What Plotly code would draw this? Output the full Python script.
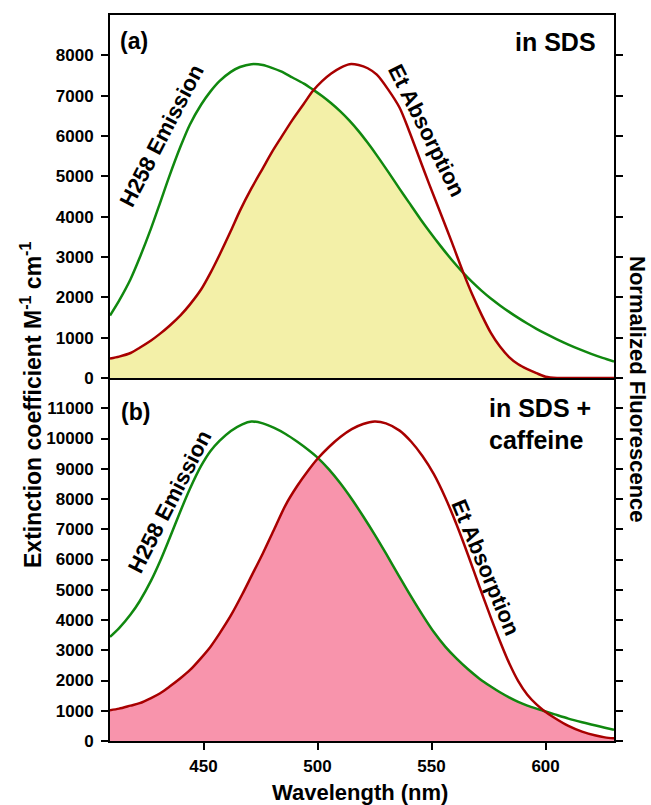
import plotly.graph_objects as go
import numpy as np

# ---------------- data ----------------
# Panel (a): in SDS
wl_a = [409, 413, 418, 422, 427, 431, 435, 440, 444, 449, 453, 457, 462, 466, 471,
        476, 480, 484, 489, 494, 498, 502, 506, 510, 514, 518, 522, 526, 531, 536,
        540, 545, 549, 554, 559, 564, 568, 572, 576, 580, 584, 588, 592, 596, 600,
        605, 610, 615, 620, 625, 630]
emis_a = [1550, 1920, 2450, 2980, 3710, 4350, 5000, 5750, 6280, 6780, 7100, 7360, 7590, 7710, 7780,
          7760, 7690, 7600, 7450, 7300, 7150, 6990, 6810, 6610, 6380, 6120, 5830, 5520, 5110, 4690,
          4360, 3950, 3640, 3270, 2920, 2600, 2370, 2160, 1970, 1800, 1640, 1490, 1350, 1220, 1100,
          960, 830, 710, 600, 500, 410]
abs_a = [480, 530, 620, 750, 930, 1100, 1290, 1560, 1820, 2200, 2600, 3050, 3650, 4150, 4700,
         5200, 5600, 5960, 6400, 6800, 7120, 7360, 7550, 7690, 7780, 7760, 7680, 7520, 7150, 6700,
         6150, 5400, 4800, 4080, 3350, 2600, 2050, 1560, 1120, 780, 520, 340, 220, 120, 30,
         0, 0, 0, 0, 0, 0]

# Panel (b): in SDS + caffeine
wl_b = [409, 413, 418, 422, 427, 431, 435, 440, 444, 449, 453, 457, 462, 467, 471,
        476, 481, 486, 491, 496, 500, 505, 510, 515, 520, 525, 530, 536, 541, 546,
        551, 556, 561, 566, 571, 576, 580, 584, 588, 592, 596, 599, 604, 610, 616,
        622, 626, 630]
emis_b = [3440, 3730, 4180, 4620, 5300, 5950, 6680, 7620, 8330, 9100, 9580, 9920, 10250, 10470, 10560,
          10500, 10350, 10150, 9900, 9620, 9370, 8980, 8520, 8000, 7430, 6830, 6200, 5420, 4780, 4170,
          3600, 3120, 2720, 2370, 2060, 1800, 1610, 1440, 1290, 1170, 1070, 1000, 880, 740, 620,
          510, 440, 370]
abs_b = [1020, 1070, 1170, 1250, 1420, 1580, 1790, 2080, 2340, 2750, 3110, 3550, 4150, 4850, 5450,
         6200, 7000, 7800, 8420, 8950, 9330, 9720, 10050, 10310, 10480, 10560, 10500, 10260, 9900, 9420,
         8820, 8050, 7150, 6150, 5100, 4080, 3300, 2580, 1980, 1530, 1210, 1020, 760, 500, 310,
         180, 120, 90]

x_ticks = [450, 500, 550, 600]
y_ticks_a = list(range(0, 9000, 1000))
y_ticks_b = list(range(0, 12000, 1000))

# ---------------- style ----------------
GREEN = "#10880F"
RED = "#A80000"
FILL_A = "#F3F0A8"
FILL_B = "#F894AC"
FONT = "Liberation Sans"
SM = 0.8

fig = go.Figure()

# overlap fills
fig.add_trace(go.Scatter(x=wl_a, y=np.minimum(emis_a, abs_a), xaxis="x2", yaxis="y",
                         mode="lines", line=dict(width=0, shape="spline", smoothing=SM),
                         fill="tozeroy", fillcolor=FILL_A, hoverinfo="skip", showlegend=False))
fig.add_trace(go.Scatter(x=wl_b, y=np.minimum(emis_b, abs_b), xaxis="x", yaxis="y2",
                         mode="lines", line=dict(width=0, shape="spline", smoothing=SM),
                         fill="tozeroy", fillcolor=FILL_B, hoverinfo="skip", showlegend=False))

# curves
for wl, em, ab, xa, ya in [(wl_a, emis_a, abs_a, "x2", "y"), (wl_b, emis_b, abs_b, "x", "y2")]:
    fig.add_trace(go.Scatter(x=wl, y=em, xaxis=xa, yaxis=ya, mode="lines",
                             line=dict(color=GREEN, width=2.5, shape="spline", smoothing=SM),
                             showlegend=False, name="H258 Emission"))
    fig.add_trace(go.Scatter(x=wl, y=ab, xaxis=xa, yaxis=ya, mode="lines",
                             line=dict(color=RED, width=2.5, shape="spline", smoothing=SM),
                             showlegend=False, name="Et Absorption"))

tickfont = dict(family=FONT, size=17, color="black", weight=700)
common_y = dict(ticks="outside", ticklen=7, tickwidth=2, tickcolor="black",
                showline=True, linewidth=2, linecolor="black", mirror="ticks",
                showgrid=False, zeroline=False, tickfont=tickfont, ticklabelstandoff=4,
                tickformat="d")

fig.update_layout(
    width=651, height=805,
    margin=dict(l=110, r=37, t=15, b=64),
    paper_bgcolor="white", plot_bgcolor="white",
    xaxis=dict(domain=[0, 1], anchor="y2", range=[409, 630], tickvals=x_ticks,
               ticks="outside", ticklen=7, tickwidth=2, tickcolor="black",
               showline=True, linewidth=2, linecolor="black", ticklabelstandoff=2,
               showgrid=False, zeroline=False, tickfont=tickfont),
    xaxis2=dict(domain=[0, 1], anchor="y", range=[409, 630], matches="x",
                showticklabels=False, ticks="", showline=True, mirror=True,
                linewidth=2, linecolor="black", showgrid=False, zeroline=False),
    yaxis=dict(domain=[0.5, 1], anchor="x2", range=[0, 9000], tickvals=y_ticks_a, **common_y),
    yaxis2=dict(domain=[0, 0.5], anchor="x", range=[0, 12000], tickvals=y_ticks_b, **common_y),
)

# text annotations (positions given in pixels, converted to paper coordinates)
L, R, T, B = 110, 614, 15, 741


def px(xp, yp):
    return (xp - L) / (R - L), (B - yp) / (B - T)


def note(text, xp, yp, size=22, angle=0, xanchor="center", yanchor="middle", color="black"):
    x, y = px(xp, yp)
    fig.add_annotation(text=text, x=x, y=y, xref="paper", yref="paper", showarrow=False,
                       textangle=angle, xanchor=xanchor, yanchor=yanchor,
                       font=dict(family=FONT, size=size, color=color, weight=700))


note("(a)", 118, 41, size=23, xanchor="left")
note("(b)", 119, 412, size=23, xanchor="left")
note("in SDS", 598, 42, size=25, xanchor="right")
note("in SDS +", 487, 408, size=25, xanchor="left")
note("caffeine", 487, 440, size=25, xanchor="left")
note("H258 Emission", 162, 136, angle=-62.6)
note("Et Absorption", 427, 130, angle=63.4)
note("H258 Emission", 170, 502, angle=-62.9)
note("Et Absorption", 486, 567, angle=67.4)
note("Extinction coefficient M<sup>-1</sup> cm<sup>-1</sup>", 31, 405, size=23, angle=-90)
note("Normalized Fluorescence", 638, 389, angle=90)
note("Wavelength (nm)", 360, 792)

fig.write_html("out.html")
